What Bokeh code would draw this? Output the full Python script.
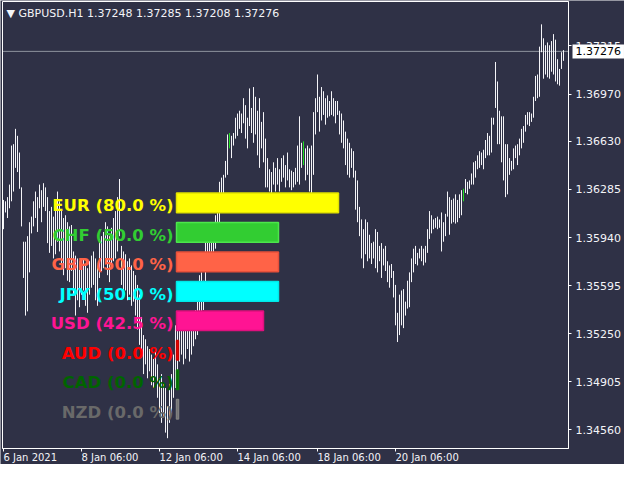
from bokeh.plotting import figure
from bokeh.models import Range1d, FixedTicker, PrintfTickFormatter, Label
from bokeh.embed import file_html
from bokeh.resources import INLINE
from bokeh.core.properties import value

# ---------------- data ----------------
symbol = "GBPUSD.H1"
last_ohlc = [1.37248, 1.37285, 1.37208, 1.37276]
current_price = 1.37276

highs = [
    1.3621, 1.3620, 1.3623, 1.3632, 1.3660, 1.3661, 1.3672, 1.3667, 1.3655, 1.3630,
    1.3591, 1.3591, 1.3595, 1.3605, 1.3609, 1.3620, 1.3627, 1.3623, 1.3632, 1.3628,
    1.3633, 1.3630, 1.3623, 1.3613, 1.3616, 1.3609, 1.3613, 1.3627, 1.3620, 1.3613,
    1.3608, 1.3610, 1.3605, 1.3602, 1.3603, 1.3584, 1.3581, 1.3579, 1.3577, 1.3575,
    1.3579, 1.3574, 1.3572, 1.3577, 1.3581, 1.3584, 1.3579, 1.3574, 1.3593, 1.3595,
    1.3598, 1.3605, 1.3602, 1.3595, 1.3601, 1.3608, 1.3613, 1.3623, 1.3636, 1.3588,
    1.3584, 1.3582, 1.3577, 1.3579, 1.3574, 1.3570, 1.3567, 1.3560, 1.3553, 1.3537,
    1.3524, 1.3521, 1.3516, 1.3514, 1.3510, 1.3507, 1.3512, 1.3503, 1.3493, 1.3496,
    1.3489, 1.3486, 1.3473, 1.3489, 1.3496, 1.3510, 1.3531, 1.3534, 1.3531, 1.3535,
    1.3530, 1.3533, 1.3538, 1.3535, 1.3531, 1.3537, 1.3542, 1.3549, 1.3567, 1.3569,
    1.3563, 1.3591, 1.3595, 1.3590, 1.3601, 1.3605, 1.3610, 1.3625, 1.3634, 1.3637,
    1.3639, 1.3649, 1.3668, 1.3669, 1.3667, 1.3669, 1.3680, 1.3683, 1.3685, 1.3683,
    1.3694, 1.3689, 1.3680, 1.3701, 1.3687, 1.3702, 1.3695, 1.3685, 1.3694, 1.3677,
    1.3684, 1.3665, 1.3651, 1.3643, 1.3641, 1.3648, 1.3644, 1.3651, 1.3643, 1.3651,
    1.3653, 1.3646, 1.3655, 1.3643, 1.3642, 1.3641, 1.3644, 1.3660, 1.3681, 1.3662,
    1.3663, 1.3658, 1.3660, 1.3658, 1.3660, 1.3684, 1.3694, 1.3711, 1.3695, 1.3702,
    1.3699, 1.3694, 1.3696, 1.3692, 1.3699, 1.3694, 1.3692, 1.3692, 1.3685, 1.3683,
    1.3678, 1.3670, 1.3665, 1.3662, 1.3658, 1.3656, 1.3642, 1.3635, 1.3616, 1.3607,
    1.3600, 1.3607, 1.3605, 1.3596, 1.3590, 1.3591, 1.3600, 1.3598, 1.3588, 1.3590,
    1.3586, 1.3588, 1.3577, 1.3574, 1.3575, 1.3570, 1.3560, 1.3540, 1.3553, 1.3556,
    1.3557, 1.3548, 1.3563, 1.3569, 1.3579, 1.3586, 1.3588, 1.3583, 1.3586, 1.3588,
    1.3586, 1.3588, 1.3600, 1.3613, 1.3610, 1.3607, 1.3608, 1.3609, 1.3607, 1.3612,
    1.3605, 1.3611, 1.3627, 1.3623, 1.3621, 1.3622, 1.3625, 1.3621, 1.3625, 1.3628,
    1.3629, 1.3636, 1.3634, 1.3635, 1.3640, 1.3648, 1.3649, 1.3653, 1.3656, 1.3655,
    1.3657, 1.3664, 1.3669, 1.3667, 1.3680, 1.3680, 1.3720, 1.3706, 1.3685, 1.3681,
    1.3681, 1.3661, 1.3661, 1.3651, 1.3649, 1.3658, 1.3660, 1.3661, 1.3665, 1.3672,
    1.3674, 1.3682, 1.3684, 1.3684, 1.3683, 1.3695, 1.3710, 1.3711, 1.3731, 1.3747,
    1.3737, 1.3732, 1.3734, 1.3732, 1.3735, 1.3740, 1.3736, 1.3722, 1.3715, 1.3727,
    1.37285,
]

lows = [
    1.3600, 1.3612, 1.3608, 1.3615, 1.3620, 1.3627, 1.3644, 1.3641, 1.3629, 1.3602,
    1.3565, 1.3538, 1.3541, 1.3569, 1.3597, 1.3602, 1.3608, 1.3598, 1.3615, 1.3605,
    1.3616, 1.3613, 1.3590, 1.3583, 1.3588, 1.3579, 1.3582, 1.3591, 1.3584, 1.3575,
    1.3567, 1.3572, 1.3563, 1.3562, 1.3570, 1.3553, 1.3538, 1.3549, 1.3544, 1.3553,
    1.3556, 1.3545, 1.3540, 1.3553, 1.3558, 1.3560, 1.3549, 1.3545, 1.3565, 1.3570,
    1.3572, 1.3575, 1.3567, 1.3562, 1.3574, 1.3577, 1.3579, 1.3584, 1.3595, 1.3560,
    1.3553, 1.3556, 1.3549, 1.3553, 1.3545, 1.3548, 1.3538, 1.3528, 1.3517, 1.3510,
    1.3496, 1.3503, 1.3493, 1.3498, 1.3488, 1.3486, 1.3491, 1.3479, 1.3468, 1.3461,
    1.3465, 1.3454, 1.3450, 1.3461, 1.3468, 1.3479, 1.3486, 1.3496, 1.3505, 1.3510,
    1.3503, 1.3507, 1.3514, 1.3505, 1.3510, 1.3516, 1.3521, 1.3524, 1.3534, 1.3538,
    1.3542, 1.3553, 1.3575, 1.3577, 1.3581, 1.3582, 1.3586, 1.3591, 1.3604, 1.3614,
    1.3620, 1.3637, 1.3639, 1.3658, 1.3651, 1.3660, 1.3665, 1.3667, 1.3672, 1.3669,
    1.3676, 1.3665, 1.3658, 1.3674, 1.3669, 1.3662, 1.3668, 1.3653, 1.3644, 1.3658,
    1.3648, 1.3630, 1.3630, 1.3627, 1.3625, 1.3632, 1.3627, 1.3632, 1.3627, 1.3634,
    1.3637, 1.3630, 1.3635, 1.3630, 1.3628, 1.3630, 1.3632, 1.3634, 1.3632, 1.3644,
    1.3646, 1.3635, 1.3639, 1.3627, 1.3623, 1.3639, 1.3668, 1.3684, 1.3670, 1.3678,
    1.3682, 1.3675, 1.3680, 1.3681, 1.3682, 1.3681, 1.3676, 1.3682, 1.3668, 1.3662,
    1.3658, 1.3646, 1.3639, 1.3637, 1.3644, 1.3637, 1.3614, 1.3605, 1.3595, 1.3579,
    1.3572, 1.3582, 1.3577, 1.3579, 1.3575, 1.3579, 1.3572, 1.3569, 1.3577, 1.3565,
    1.3574, 1.3570, 1.3562, 1.3558, 1.3565, 1.3551, 1.3531, 1.3519, 1.3524, 1.3531,
    1.3529, 1.3538, 1.3543, 1.3544, 1.3562, 1.3569, 1.3575, 1.3574, 1.3579, 1.3577,
    1.3574, 1.3576, 1.3583, 1.3593, 1.3597, 1.3600, 1.3601, 1.3600, 1.3601, 1.3584,
    1.3591, 1.3595, 1.3609, 1.3596, 1.3604, 1.3605, 1.3604, 1.3605, 1.3608, 1.3610,
    1.3620, 1.3626, 1.3625, 1.3629, 1.3632, 1.3632, 1.3637, 1.3643, 1.3644, 1.3646,
    1.3643, 1.3651, 1.3653, 1.3653, 1.3655, 1.3675, 1.3687, 1.3661, 1.3661, 1.3648,
    1.3635, 1.3623, 1.3625, 1.3639, 1.3642, 1.3643, 1.3651, 1.3646, 1.3653, 1.3658,
    1.3662, 1.3670, 1.3675, 1.3674, 1.3677, 1.3680, 1.3692, 1.3694, 1.3695, 1.3727,
    1.3708, 1.3711, 1.3709, 1.3708, 1.3713, 1.3711, 1.3706, 1.3704, 1.3703, 1.3715,
    1.37208,
]

signal_bars = [113, 150, 230]

price_ticks = [1.34560, 1.34905, 1.35250, 1.35595, 1.35940, 1.36285, 1.36630, 1.36970, 1.37315]
time_tick_bars = [0, 39, 78, 117, 157, 196]
time_tick_labels = ["6 Jan 2021", "8 Jan 06:00", "12 Jan 06:00", "14 Jan 06:00",
                    "18 Jan 06:00", "20 Jan 06:00"]

currencies = ["EUR", "CHF", "GBP", "JPY", "USD", "AUD", "CAD", "NZD"]
strength = [80.0, 50.0, 50.0, 50.0, 42.5, 0.0, 0.0, 0.0]
cur_colors = ["#FFFF00", "#32CD32", "#FF6347", "#00FFFF", "#FF1493", "#FF0000", "#006400", "#696969"]
cur_edges = ["#E2E200", "#4CE64C", "#E8503A", "#00E8E8", "#E0107E", "#C80000", "#0A7A0A", "#808080"]

# ---------------- layout (pixels) ----------------
W, H = 624, 464
CL, CR, CT, CB = 2.0, 568.0, 1.0, 448.0       # chart box inside the canvas
X0, X1 = -0.5, 282.5                          # bar-index span of the chart box
Y0, Y1 = 1.34426, 1.37634                     # price span of the chart box
ux = (X1 - X0) / (CR - CL)
uy = (Y1 - Y0) / (CB - CT)

# strength panel geometry (reference px -> canvas px)
KY = (CB - CT) / 455.0
PCT0_PX, PX_PER_PCT = 177.0, 2.0
ROW0_REF, ROW_STEP_REF = 206.0, 30.0


def row_at(py):
    return ((py - CT) / KY + 1.0 - ROW0_REF) / ROW_STEP_REF


BG = "#2F3146"
FG = "#F4F4F8"

p = figure(width=W, height=H, output_backend="svg", toolbar_location=None,
           x_range=Range1d(X0 - CL * ux, X1 + (W - CR) * ux),
           y_range=Range1d(Y0 - (H - CB) * uy, Y1 + CT * uy),
           y_axis_location="right",
           background_fill_color=BG, border_fill_color=BG, outline_line_color=None)
p.min_border = 0
p.min_border_left = 0
p.min_border_right = 0
p.min_border_top = 0
p.min_border_bottom = 0
p.grid.visible = False

# current price line
p.segment(x0=[X0], x1=[X1], y0=[current_price], y1=[current_price],
          line_color="#8E929E", line_width=1)

# H1 bars (high-low)
idx = list(range(len(highs)))
normal = [i for i in idx if i not in signal_bars]
p.segment(x0=normal, x1=normal, y0=[lows[i] for i in normal], y1=[highs[i] for i in normal],
          line_color=FG, line_width=1)
p.segment(x0=signal_bars, x1=signal_bars, y0=[lows[i] for i in signal_bars],
          y1=[highs[i] for i in signal_bars], line_color="#22E022", line_width=1)

# chart border
p.quad(left=[X0], right=[X1], bottom=[Y0], top=[Y1], fill_color=None,
       line_color="#FFFFFF", line_width=1)

# right price axis, pinned to the chart's right edge
ya = p.yaxis[0]
ya.fixed_location = X1
ya.bounds = (Y0, Y1)
ya.ticker = FixedTicker(ticks=price_ticks)
ya.formatter = PrintfTickFormatter(format="%.5f")
ya.major_label_text_color = FG
ya.major_label_text_font = "DejaVu Sans"
ya.major_label_text_font_size = "11px"
ya.major_label_standoff = 4
ya.major_tick_out = 3
ya.major_tick_in = 0
ya.minor_tick_out = 0
ya.minor_tick_in = 0
ya.major_tick_line_color = "#FFFFFF"
ya.axis_line_color = "#FFFFFF"

# bottom time axis, pinned to the chart's bottom edge, labels left-aligned
xa = p.xaxis[0]
xa.fixed_location = Y0
xa.bounds = (X0, X1)
xa.ticker = FixedTicker(ticks=time_tick_bars)
xa.major_label_overrides = {t: lab for t, lab in zip(time_tick_bars, time_tick_labels)}
xa.major_label_orientation = -1e-4
xa.major_label_standoff = 6
xa.major_label_text_color = FG
xa.major_label_text_font = "DejaVu Sans"
xa.major_label_text_font_size = "10px"
xa.major_tick_out = 3
xa.major_tick_in = 0
xa.minor_tick_out = 0
xa.minor_tick_in = 0
xa.major_tick_line_color = "#FFFFFF"
xa.axis_line_color = "#FFFFFF"

# header
header = "\u25BC  " + symbol + "  " + " ".join(f"{v:.5f}" for v in last_ohlc)
p.add_layout(Label(x=X0, y=Y1, x_offset=4, y_offset=-5, text=header,
                   text_align="left", text_baseline="top", text_color=FG,
                   text_font="DejaVu Sans", text_font_size="11px"))

# current price box on the price scale
p.add_layout(Label(x=X1, y=current_price, x_offset=4, text=f"{current_price:.5f}",
                   text_align="left", text_baseline="middle", text_color="#000000",
                   text_font="DejaVu Sans", text_font_size="11px",
                   background_fill_color="#FFFFFF", padding=3))

# currency strength panel
p.extra_x_ranges = {"pct": Range1d((0 - PCT0_PX) / PX_PER_PCT, (W - PCT0_PX) / PX_PER_PCT)}
p.extra_y_ranges = {"row": Range1d(row_at(H), row_at(0))}
rows = list(range(len(currencies)))
p.quad(left=[-0.5] * len(rows), right=[s + 0.5 for s in strength],
       top=[r - 1 / 3 for r in rows], bottom=[r + 1 / 3 for r in rows],
       fill_color=cur_colors, line_color=cur_edges, line_width=1.5,
       x_range_name="pct", y_range_name="row")
p.text(x=[-2] * len(rows), y=[r + 0.1 for r in rows],
       text=[f"{c} ({s:.1f} %)" for c, s in zip(currencies, strength)],
       text_color=cur_colors, text_align="right", text_baseline="middle",
       text_font=value("DejaVu Sans"), text_font_style="bold", text_font_size="16.5px",
       x_range_name="pct", y_range_name="row")

open("out.html", "w").write(file_html(p, INLINE))
